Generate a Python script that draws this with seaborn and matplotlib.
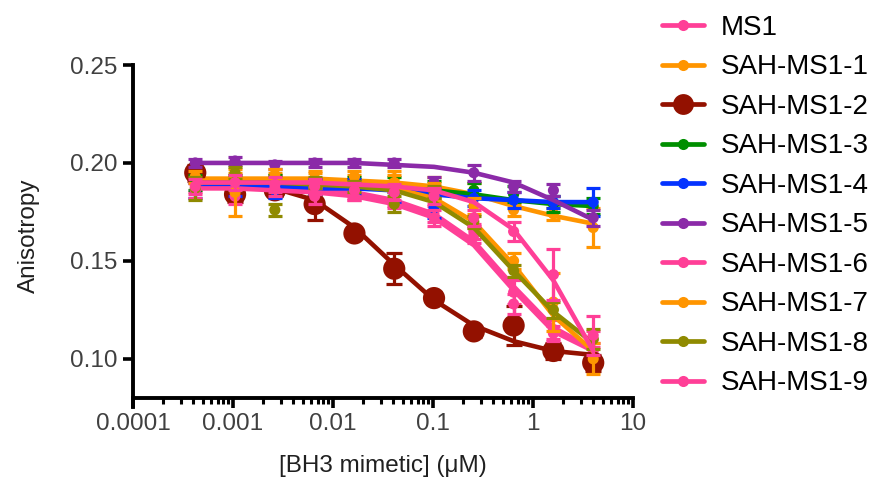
import numpy as np
import pandas as pd
import matplotlib
matplotlib.use("Agg")
import matplotlib.pyplot as plt
import seaborn as sns
from matplotlib.lines import Line2D
from matplotlib.ticker import FixedLocator, FixedFormatter, NullFormatter

# ---------------- data ----------------
conc = [0.00041943, 0.00104858, 0.00262144, 0.0065536, 0.016384,
        0.04096, 0.1024, 0.256, 0.64, 1.6, 4.0]

series_names = ["MS1", "SAH-MS1-1", "SAH-MS1-2", "SAH-MS1-3", "SAH-MS1-4",
                "SAH-MS1-5", "SAH-MS1-6", "SAH-MS1-7", "SAH-MS1-8", "SAH-MS1-9"]

series_colors = ["#FF3F97", "#FF9500", "#931100", "#008F00", "#0433FF",
                 "#8B2AA8", "#FF3F97", "#FF9500", "#8F8A00", "#FF3F97"]

ms1_pts = [0.189, 0.188, 0.190, 0.187, 0.186, 0.182, 0.174, 0.163, 0.134, 0.115, 0.104]
ms1_err = [0.004, 0.004, 0.004, 0.004, 0.005, 0.004, 0.004, 0.004, 0.006, 0.005, 0.004]
ms1_fit = [0.189, 0.189, 0.188, 0.187, 0.185, 0.181, 0.174, 0.160, 0.137, 0.116, 0.105]

s1_pts = [0.195, 0.191, 0.192, 0.192, 0.191, 0.192, 0.190, 0.186, 0.176, 0.174, 0.167]
s1_err = [0.003, 0.004, 0.003, 0.003, 0.003, 0.004, 0.003, 0.004, 0.003, 0.003, 0.010]
s1_fit = [0.192, 0.192, 0.192, 0.192, 0.191, 0.190, 0.188, 0.184, 0.178, 0.173, 0.169]

s2_pts = [0.195, 0.184, 0.186, 0.179, 0.164, 0.146, 0.131, 0.114, 0.117, 0.104, 0.098]
s2_err = [0.004, 0.004, 0.003, 0.008, 0.003, 0.008, 0.003, 0.003, 0.010, 0.004, 0.004]
s2_fit = [0.190, 0.189, 0.187, 0.181, 0.167, 0.148, 0.130, 0.117, 0.109, 0.104, 0.102]

s3_pts = [0.190, 0.190, 0.190, 0.188, 0.190, 0.189, 0.187, 0.186, 0.184, 0.179, 0.178]
s3_err = [0.004, 0.004, 0.004, 0.004, 0.003, 0.004, 0.004, 0.004, 0.004, 0.004, 0.004]
s3_fit = [0.189, 0.189, 0.189, 0.188, 0.188, 0.187, 0.186, 0.184, 0.181, 0.179, 0.178]

s4_pts = [0.186, 0.187, 0.186, 0.188, 0.188, 0.184, 0.177, 0.182, 0.181, 0.180, 0.180]
s4_err = [0.004, 0.004, 0.004, 0.004, 0.004, 0.004, 0.005, 0.004, 0.004, 0.003, 0.007]
s4_fit = [0.188, 0.188, 0.188, 0.187, 0.187, 0.186, 0.184, 0.182, 0.181, 0.180, 0.180]

s5_pts = [0.200, 0.201, 0.199, 0.200, 0.200, 0.200, 0.190, 0.195, 0.188, 0.186, 0.172]
s5_err = [0.002, 0.002, 0.002, 0.002, 0.002, 0.002, 0.003, 0.004, 0.003, 0.003, 0.004]
s5_fit = [0.200, 0.200, 0.200, 0.200, 0.200, 0.199, 0.198, 0.195, 0.190, 0.181, 0.171]

s6_pts = [0.186, 0.183, 0.187, 0.183, 0.185, 0.181, 0.172, 0.165, 0.128, 0.113, 0.110]
s6_err = [0.004, 0.004, 0.004, 0.004, 0.004, 0.004, 0.004, 0.004, 0.005, 0.004, 0.004]
s6_fit = [0.187, 0.187, 0.186, 0.185, 0.183, 0.179, 0.172, 0.158, 0.135, 0.114, 0.104]

s7_pts = [0.193, 0.185, 0.194, 0.192, 0.193, 0.190, 0.186, 0.178, 0.150, 0.129, 0.100]
s7_err = [0.003, 0.012, 0.003, 0.004, 0.003, 0.004, 0.004, 0.004, 0.004, 0.015, 0.008]
s7_fit = [0.191, 0.191, 0.191, 0.190, 0.189, 0.187, 0.182, 0.170, 0.148, 0.122, 0.104]

s8_pts = [0.187, 0.195, 0.176, 0.190, 0.188, 0.179, 0.185, 0.170, 0.145, 0.125, 0.110]
s8_err = [0.006, 0.003, 0.003, 0.003, 0.003, 0.004, 0.003, 0.003, 0.003, 0.004, 0.005]
s8_fit = [0.190, 0.190, 0.190, 0.189, 0.188, 0.186, 0.180, 0.167, 0.145, 0.124, 0.108]

s9_pts = [0.188, 0.190, 0.189, 0.188, 0.186, 0.185, 0.183, 0.172, 0.165, 0.143, 0.112]
s9_err = [0.004, 0.004, 0.004, 0.004, 0.004, 0.004, 0.004, 0.004, 0.005, 0.013, 0.010]
s9_fit = [0.190, 0.190, 0.190, 0.190, 0.189, 0.188, 0.186, 0.180, 0.166, 0.140, 0.104]

all_pts = [ms1_pts, s1_pts, s2_pts, s3_pts, s4_pts, s5_pts, s6_pts, s7_pts, s8_pts, s9_pts]
all_err = [ms1_err, s1_err, s2_err, s3_err, s4_err, s5_err, s6_err, s7_err, s8_err, s9_err]
all_fit = [ms1_fit, s1_fit, s2_fit, s3_fit, s4_fit, s5_fit, s6_fit, s7_fit, s8_fit, s9_fit]

x_tick_vals = [0.0001, 0.001, 0.01, 0.1, 1, 10]
x_tick_labels = ["0.0001", "0.001", "0.01", "0.1", "1", "10"]
y_tick_vals = [0.10, 0.15, 0.20, 0.25]
y_tick_labels = ["0.10", "0.15", "0.20", "0.25"]

# ---------------- style ----------------
sns.set_theme(style="white")
plt.rcParams['font.family'] = ['Liberation Sans', 'DejaVu Sans']

W, H = 870, 484
fig = plt.figure(figsize=(W / 100, H / 100), dpi=100)
ax = fig.add_axes([133 / W, 1 - 407 / H, 500 / W, (407 - 65) / H])

rows = []
for name, pts, err, fit in zip(series_names, all_pts, all_err, all_fit):
    for c, p, e, f in zip(conc, pts, err, fit):
        rows.append(dict(series=name, conc=c, value=p, err=e, fit=f))
df = pd.DataFrame(rows)

lw_fit = 3.3
for i, (name, col) in enumerate(zip(series_names, series_colors)):
    sub = df[df.series == name]
    big = name == "SAH-MS1-2"
    z = 2 + i * 0.1
    ax.errorbar(sub.conc, sub.value, yerr=sub.err, fmt='none', ecolor=col,
                elinewidth=2.3, capsize=6 if big else 5.2, capthick=2.3, zorder=z)
    sns.scatterplot(data=sub, x="conc", y="value", color=col,
                    s=(16 ** 2) if big else (8 ** 2), edgecolor='none',
                    linewidth=0, legend=False, ax=ax, zorder=z + 0.02)
    sns.lineplot(data=sub, x="conc", y="fit", color=col, lw=lw_fit,
                 estimator=None, legend=False, ax=ax, zorder=z + 0.04)

ax.set_xscale('log')
ax.set_xlim(1e-4, 10)
ax.set_ylim(0.0754, 0.25)

for s in ['top', 'right']:
    ax.spines[s].set_visible(False)
for s in ['left', 'bottom']:
    ax.spines[s].set_linewidth(2.8)
    ax.spines[s].set_color('black')
ax.spines['bottom'].set_position(('data', 0.08))

ax.xaxis.set_major_locator(FixedLocator(x_tick_vals))
ax.xaxis.set_major_formatter(FixedFormatter(x_tick_labels))
minor = [m * 10.0 ** d for d in range(-4, 1) for m in range(2, 10)]
ax.xaxis.set_minor_locator(FixedLocator(minor))
ax.xaxis.set_minor_formatter(NullFormatter())
ax.yaxis.set_major_locator(FixedLocator(y_tick_vals))
ax.yaxis.set_major_formatter(FixedFormatter(y_tick_labels))

ax.tick_params(axis='both', which='major', direction='out', length=7, width=2.6,
               color='black', labelsize=17.5, labelcolor='#404040', pad=4,
               bottom=True, left=True)
ax.tick_params(axis='x', which='minor', direction='out', length=4.5, width=2.2,
               color='black', bottom=True)

ax.set_xlabel("[BH3 mimetic] (\u03bcM)", fontsize=17.5, color='#202020', labelpad=14)
ax.set_ylabel("Anisotropy", fontsize=17.5, color='#202020', labelpad=22)

handles = []
for name, col in zip(series_names, series_colors):
    big = name == "SAH-MS1-2"
    handles.append(Line2D([0], [0], color=col, lw=3.4, marker='o',
                          markersize=15 if big else 8, markeredgewidth=0))
fig.legend(handles=handles, labels=series_names, loc='upper left',
           bbox_to_anchor=(662 / W, 1 - 15 / H), frameon=False, fontsize=20,
           handlelength=1.5, handletextpad=0.6, labelspacing=0.485,
           borderaxespad=0, borderpad=0, labelcolor='black')

fig.savefig("out.png", dpi=100)
